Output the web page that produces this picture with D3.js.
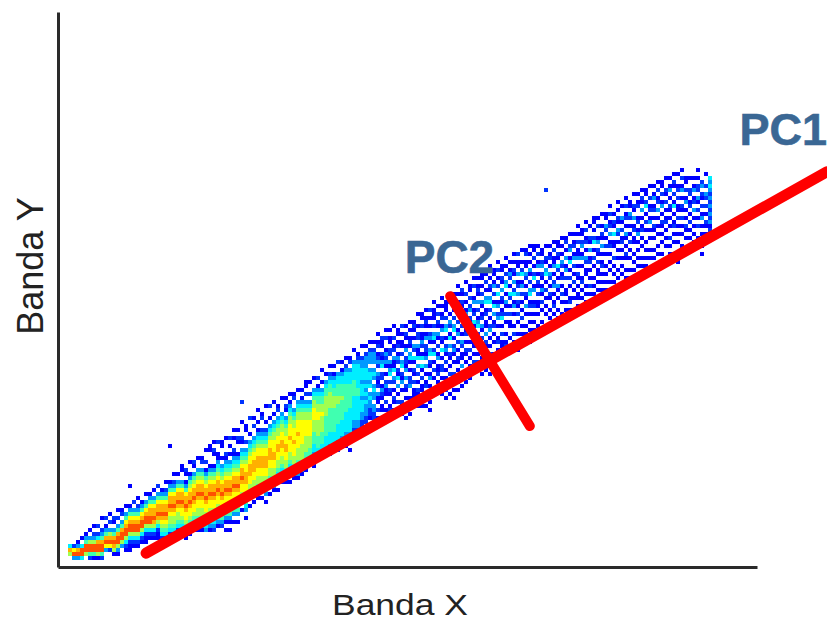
<!DOCTYPE html>
<html><head><meta charset="utf-8">
<script src="https://cdn.jsdelivr.net/npm/d3@7"></script>
<style>html,body{margin:0;padding:0;background:#fff}svg{display:block}text{font-family:"Liberation Sans",Arial,sans-serif}</style>
</head><body><div id="c"></div>
<script>
const xTitle = "Banda X", yTitle = "Banda Y", pc1Label = "PC1", pc2Label = "PC2";
// PC axes in axis units (0-100 along each band)
const pc1Line = [[12.6, 2.5], [110, 71.2]];
const pc2Line = [[56.1, 48.8], [67.5, 25.4]];
const pcAnchors = {pc1: [97.5, 76.0], pc2: [49.6, 52.9]};
// density levels: "startRow:levels" per column, "." = empty bin
const densityColumns = [
"96:486","96:2793","95:13893","94:1.4994","93:135996","92:1.369952","91:1.2369951","91:2.2489961","89:1..23589952","89:2.1358973",
"88:1.2.368972","88:.21.3589861","87:1.2.35899631","87:12.3589963","86:1.3578996421","85:.135789964211","85:2.3578996421","84:1.23578996421","84:.13578996421","83:1.35789964211",
"82:.135788996421","82:1.35788986421","81:2.357889864211","80:..1357889876542","80:1.2357889876542","79:.135788987665421","78:1.235788987665421","77:.1.35788987665421","76:11..35788987765431","76:.21.135788987765431",
"75:1..1356788987765431","74:.21.356788987765431","74:1..3567889877665431","73:.12.3567889877665431","72:1..2.1356788987766543","71:11...13567889877665431","70:1.21..13567889877665432","70:2..1134567889877665431","69:.11..1.3456788987766532","69:1...213456788987766531.1",
"68:.2.1.1.3456788987766531.1","67:1.1..21345678898776653.1","66:.1.21..1345678898776653.1","65:1...21.34567889877654.1","65:.11..2.3456778887766543.1","64:2...1.345677888776654.1","63:.1.2..345677888776654.1","62:1..1.1345677888776654.1","62:.12..2345677888776653.1","61:1...1.23456778887766543.1",
"60:.2..1.3456778887766543.1","60:1..1.345667778877665431","60:.12.34566778877665431.1","59:1...3456677887766543.1","58:.1.21.34566778877665431","58:1.1345667778777665431.1","57:.12..345667778777665431","57:1..34566777877766655431","56:.1.13456677777766665431","55:11.2.345667777666655431",
"54:.1..2.3456677776665543","54:1..345667776665554431.1","53:.2.1345566776666555443","52:1..1.34556676666555443","52:.1.3455666665555544433","51:1.234556666555555444332","50:.1.13445566655555544433","50:2..34455566555554444332","49:.1.13445556555554444332","49:1.234445555555444443321",
"48:.12.3444555555444444332.1","47:1..34444555544444433 2.1","47:.1234444445544444433 21","46:1..2334443444344433 22.1","45:.1.233344434343433322.1","45:1.2333.34434.3433221","44:.1.2333.343.3433.332231","43:1.12.1232.3212.311.2.1","43:.211.2134.22.1321.11.21","42:1.2..13231.1.2311.2.1.1",
"41:.1.11.22.3134.2.21..12.1","41:1..2.12.3114.32.1.21.1","41:.11.12.132.214.3.1.2.11","41:2.1.11.2.34.213.1..21.1","40:.1.21.13.2213.3.21.1.1..1","40:1.1.121.341.1.223..1.2.1","39:.121.1.32.41.21.2.111.1","38:1..1.22.3114.3.2.1.21..1","37:.11.2.1132.14.41.2.11.2.1","37:1.121.13.2213.3.1.12..1.1",
"36:.2.1.1.231.34.21.13.1.2.1.1","35:1.111.2.341.24.1.2.1..21","35:.1.2.21.31.2.13.112.1.1","34:1.1.12.13.21.4.1.22.1.1.1","34:.111.2.34.1.231.2.1.1..2.1","33:1.2..1.32.14.3.21.1.2.1..1","32:.1.121.2.34.1.231.1..2.1.1.1","31:1.1.1.13.2.13.2.1.21.1..2.1","31:.21.21.34.2.1.32.11.3..1.1","30:1..2.1.13.4.12.1.21.1..1.1",
"30:.11.2.23.21.34.1.2.1.12.1","29:1.2..13.12.41.2.11.1.2.1","28:.1.121.3.2.134.2.11.1.21","28:11.1.2.31.12.31.2.1..1.1.1","27:.1.2.1.34.12.11.3.21..21.1","26:1..1.21.34.2.1.23.1.1.2..1.1","26:.11.13.2.14.3.12.1.1..1.1","25:1.2.1.2.4.13.23.1..12.1.1","25:.11.21.3.21.124.1.2.11.1","24:1.1.2.34.1.31.2.1..1.12.1",
"24:.1.132.1.42.1.2.11..1.1","23:1.1.21.3.24.13.1..1.2.1.1","22:.2.11.3.12.3.21.2.1..1.1.1","22:1..1.24.13.2.1.1.2.1.1","21:.12.11.32.1.21.3.1..1.1.1","21:1.1.1.31.2.34.12.1.1.1..1","20:.11.2.1.24.13..12.1.1.1","21:1.2.13.1.21.2.11.1..1","21:.11.23.21.131.2.1..1.1","21:1..21.34.1.2.1.1.1..1",
"20:.1.12.1.32.1.21..1.1.1","20:1.2.113.1.23.1.12.1.1","19:.11.21.42.1.31.1..1.1","19:1.1.1.32.12.1.2.1..1.1","18:.12.1.3.13.2..11.1.1","18:1..23.14.1.2.1..12.1","17:.1.12.13.2.1.2.1.1..1","16:1.1.2.113.1.21.1.11.1.1","16:.11.23.13.1..12.1.1","15:1.2.12.1.32.11..1.1.1",
"15:.1..21.3.12.1.1.2.1","14:11.1.24.1.2.1..1.1.1","13:.1.2..13.21.2.11.1.1.1","13:1..1.21.3.1.12.1.1.1","12:.11.32.1.2.1..1.1.1.1","11:1.2.12.3.12.1.1.1..1.1","11:..1.21.4.11..2.1.1.1","10:1.1.21.32.1.1.1..1.1.1","10:.1..31.2.12.1.1.1.1","9:1.2.12.1.31.1.21..1.1",
"9:.11.32.1.1.2.1.1..1.1","8:1..21.3.12.11..1.1.1.1","7:.1.12..12.13.1.1.1.1","7:1.21.3.1.12.1.1..1.1.1","6:.11.24.1.2.1..1.1.1.1","6:1..2.12.13.1.1..1.1","5:.1.13.12.1.21.1..1.1.1","5:1.2.12.3.1.1.1..1.1","4:.11.2.13.1.21.1.1..1","4:1..21.2.1.12.1.1.1",
"3:.1.13.1.21.1.1..2.1.1","3:1.21.2.14.1.12.1.1..1","2:.1..12.2.11.2.1.1.1..1.1","2:1.2.13.1.21.2.1.1..1.1","3:.11.2.13.1.1.21.1","4:1..22.12.1.2.1.1..1","3:.1.13.12.3.1.1.1.1","2:1.1.22.31.2.1.2..1","4:.23.21.2.13.1.1..1.1","3:1..2.32.2.1.21.1.1",
"4:4343232323231232"
];
const outlierBins = [[119, 7, 2], [15, 81, 1], [43, 60, 2], [25, 71, 1]];
const levels = [1, 2, 3, 4, 5, 6, 7, 8, 9];
const levelColors = ["#0000ff", "#0033ff", "#0099ff", "#00eeff", "#40ffb0", "#a0ff50", "#ffff00", "#ffb000", "#ff5000"];

const W = 827, H = 622;
const svg = d3.select("#c").append("svg").attr("width", W).attr("height", H);
const x = d3.scaleLinear().domain([0, 100]).range([58, 757]);
const y = d3.scaleLinear().domain([0, 100]).range([567, 12]);
const binX = d3.scaleBand().domain(d3.range(densityColumns.length)).range([68, 712]);
const binY = d3.scaleLinear().domain([0, 100]).range([160, 560]);
const color = d3.scaleLinear().domain(levels).range(levelColors);

const cells = [];
densityColumns.forEach((s, c) => {
  const [start, body] = s.replace(/ /g, "").split(":");
  Array.from(body).forEach((ch, i) => {
    if (ch >= "1" && ch <= "9") cells.push({c, r: +start + i, v: +ch});
  });
});
outlierBins.forEach(([c, r, v]) => cells.push({c, r, v}));

svg.append("g").style("filter", "blur(0.6px)").selectAll("rect").data(cells).join("rect")
  .attr("x", d => binX(d.c)).attr("y", d => binY(d.r))
  .attr("width", binX.bandwidth()).attr("height", binY(1) - binY(0))
  .attr("fill", d => color(d.v));

const axisX = d3.axisBottom(x).tickValues([]).tickSizeOuter(0);
const axisY = d3.axisLeft(y).tickValues([]).tickSizeOuter(0);
for (const [ax, t] of [[axisX, `translate(0,${y(0)})`], [axisY, `translate(${x(0)},0)`]]) {
  svg.append("g").attr("transform", t).call(ax)
    .select(".domain").attr("stroke", "#2a2a2a").attr("stroke-width", 3);
}

const line = d3.line().x(d => x(d[0])).y(d => y(d[1]));
[[pc1Line, 11], [pc2Line, 10]].forEach(([pts, w]) => {
  svg.append("path").attr("d", line(pts)).attr("fill", "none")
    .attr("stroke", "#ff0000").attr("stroke-width", w).attr("stroke-linecap", "round");
});

svg.append("text").attr("x", 332).attr("y", 615).attr("font-size", 30)
  .attr("textLength", 136).attr("lengthAdjust", "spacingAndGlyphs").attr("fill", "#222").text(xTitle);
svg.append("text").attr("transform", "translate(43,266) rotate(-90)").attr("text-anchor", "middle")
  .attr("font-size", 36).attr("fill", "#222").text(yTitle);
svg.append("text").attr("x", x(pcAnchors.pc1[0])).attr("y", y(pcAnchors.pc1[1])).attr("font-size", 45)
  .attr("font-weight", "bold").attr("fill", "#3a6794").attr("stroke", "#3a6794").attr("stroke-width", 0.6).text(pc1Label);
svg.append("text").attr("x", x(pcAnchors.pc2[0])).attr("y", y(pcAnchors.pc2[1])).attr("font-size", 46)
  .attr("font-weight", "bold").attr("fill", "#3a6794").attr("stroke", "#3a6794").attr("stroke-width", 0.6).text(pc2Label);
</script></body></html>
